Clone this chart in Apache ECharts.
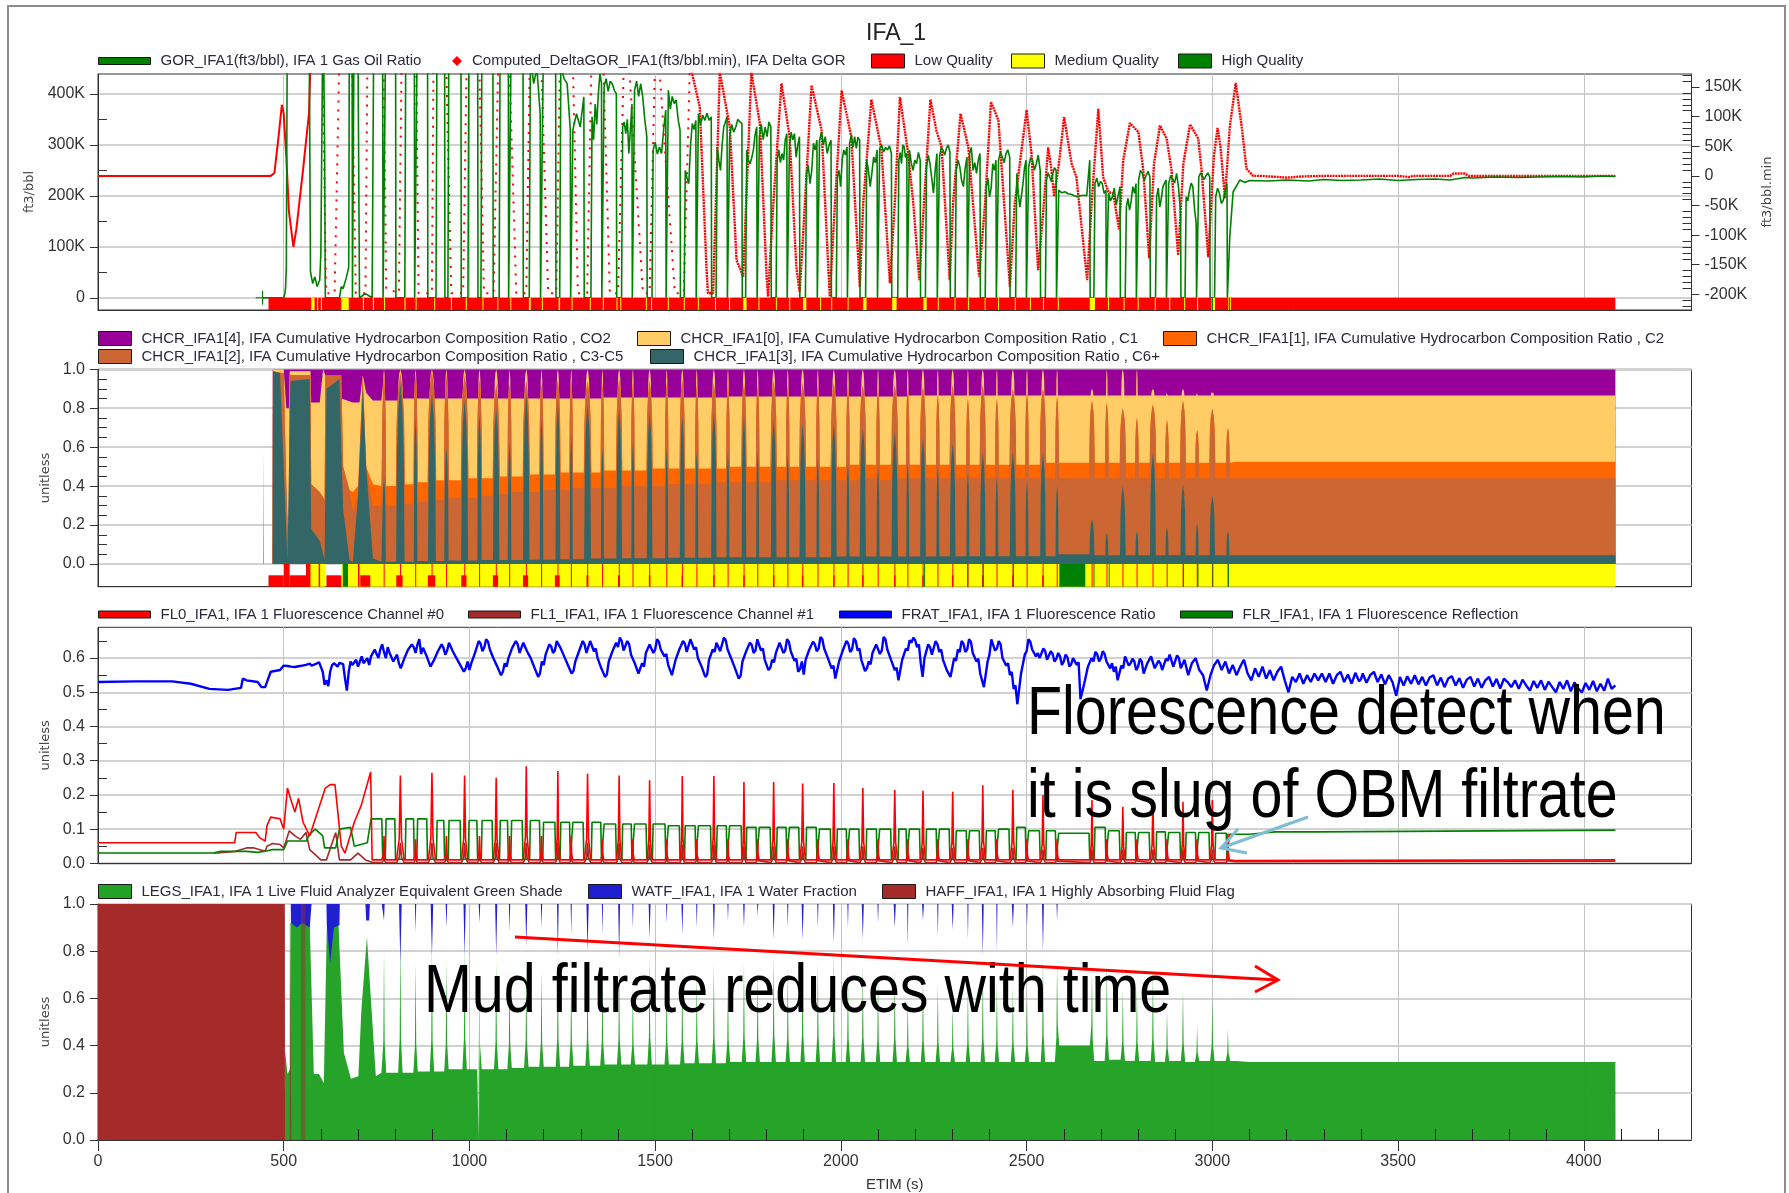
<!DOCTYPE html>
<html>
<head>
<meta charset="utf-8">
<title>IFA_1</title>
<script src="https://cdn.jsdelivr.net/npm/echarts@6/dist/echarts.min.js"></script>
<style>
  html, body { margin: 0; padding: 0; background: #fff; }
  #chart { width: 1789px; height: 1193px; }
</style>
</head>
<body>
<div id="chart"></div>
<script>
// x ticks, all panels share ETIM (s)
const xTicks = [0, 500, 1000, 1500, 2000, 2500, 3000, 3500, 4000]
const xMinorTicks = [600, 700, 800, 900, 1100, 1200, 1300, 1400, 1600, 1700, 1800, 1900, 2100, 2200, 2300, 2400,
  2600, 2700, 2800, 2900, 3100, 3200, 3300, 3400, 3600, 3700, 3800, 3900, 4100, 4200]
const gorTicks = [0, 100, 200, 300, 400]
const gorMinor = [50, 150, 250, 350]
const deltaTicks = [-200, -150, -100, -50, 0, 50, 100, 150]
const deltaMinor = [-220, -210, -190, -180, -170, -160, -140, -130, -120, -110, -90, -80, -70, -60, -40, -30, -20, -10,
  10, 20, 30, 40, 60, 70, 80, 90, 110, 120, 130, 140, 160, 170]
const chcrTicks = [0, 0.2, 0.4, 0.6, 0.8, 1]
const chcrMinor = [0.05, 0.1, 0.15, 0.25, 0.3, 0.35, 0.45, 0.5, 0.55, 0.65, 0.7, 0.75, 0.85, 0.9, 0.95]
const flTicks = [0, 0.1, 0.2, 0.3, 0.4, 0.5, 0.6]
const flMinor = [0.05, 0.15, 0.25, 0.35, 0.45, 0.55, 0.65]
const lfaTicks = [0, 0.2, 0.4, 0.6, 0.8, 1]

// times of the filtrate slugs (s) and how wide each GOR dip is (s)
const slugT = [770, 814, 855, 899, 938, 987, 1027, 1072, 1108, 1153,
  1194, 1238, 1274, 1318, 1358, 1403, 1440, 1485, 1531, 1573,
  1612, 1658, 1696, 1739, 1776, 1819, 1857, 1897, 1938, 1981,
  2019, 2059, 2100, 2145, 2180, 2221, 2261, 2301, 2342, 2382,
  2420, 2463, 2501, 2544, 2582, 2676, 2716, 2759, 2797, 2840,
  2878, 2921, 2959, 3000, 3042]
const slugW = [5, 24, 5, 22, 8, 18, 8, 16, 5, 16,
  5, 10, 3, 18, 3, 13, 3, 13, 3, 10,
  3, 12, 3, 9, 3, 13, 3, 15, 3, 13,
  3, 15, 3, 16, 3, 13, 3, 13, 3, 13,
  3, 15, 3, 13, 3, 10, 3, 13, 3, 14,
  3, 11, 3, 12, 3]

// GOR (K ft3/bbl)
const gorEarly = [[443, 0], [470, 0], [500, 0], [503, 8], [505, 20], [507, 60], [510, 600], [568, 600], [572, 51], [578, 28],
  [584, 41], [590, 22], [597, 35], [600, 87], [606, 600], [610, 300], [612, 0], [650, 0], [655, 22], [660, 18], [668, 38],
  [675, 60], [677, 600], [684, 600], [685, 0], [688, 0], [690, 600], [699, 600], [704, 0], [720, 8], [738, 0], [743, 600], [766, 600]]
// one row per gap between two slugs
const gorPlateau = [[600, 600, 600, 600], [600, 600, 600, 600], [600, 600, 600, 600], [600, 600, 600, 600], [600, 600, 600, 600],
  [600, 600, 600, 600], [600, 600, 600, 600], [600, 600, 600, 600], [600, 600, 600, 600], [470, 420, 450, 360],
  [520, 540, 520, 500], [460, 430, 420, 330], [330, 361, 335, 394],
  [355, 310, 380, 340, 400, 440, 420], [414, 430, 405, 425, 420, 407, 400], [335, 345, 322, 350, 283, 330, 380],
  [407, 425, 395, 420, 394, 350, 316], [290, 305, 282, 296, 283, 330, 368], [407, 370, 395, 381, 388, 350, 329],
  [250, 235, 224, 300, 342, 330, 348], [361, 340, 358, 348, 362, 348, 355], [296, 270, 250, 300, 335, 345, 355],
  [316, 340, 325, 335, 350, 345, 342], [290, 270, 263, 275, 290, 320, 335], [316, 340, 310, 335, 316, 345, 335],
  [270, 290, 265, 283, 270, 310, 322], [296, 325, 310, 322, 276, 300, 316], [244, 260, 224, 250, 303, 290, 309],
  [309, 325, 300, 316, 283, 300, 309], [237, 250, 218, 270, 290, 280, 296], [303, 320, 295, 316, 293, 315, 309],
  [270, 250, 218, 245, 276, 265, 290], [293, 300, 286, 295, 290, 298, 283], [270, 285, 263, 300, 296, 275, 283],
  [290, 265, 250, 270, 263, 285, 270], [257, 280, 263, 235, 205, 250, 283], [276, 295, 290, 280, 293, 300, 286],
  [250, 270, 257, 230, 218, 255, 276], [283, 295, 250, 265, 244, 270, 283], [218, 235, 198, 215, 263, 250, 270],
  [270, 285, 276, 265, 283, 290, 276], [244, 205, 178, 200, 224, 255, 270], [257, 275, 270, 250, 263, 280, 250],
  [231, 245, 237, 228, 244, 255, 250], [211, 206, 208, 204, 203, 200, 198, 200, 201, 200, 270],
  [224, 235, 218, 228, 224, 205, 211], [205, 190, 198, 215, 182, 200, 218], [178, 195, 172, 190, 218, 205, 224],
  [231, 250, 244, 230, 240, 248, 237], [198, 215, 178, 195, 218, 225, 231], [224, 240, 237, 225, 244, 215, 165],
  [198, 190, 211, 225, 218, 175, 146], [237, 245, 242, 232, 240, 245, 237], [198, 215, 205, 185, 191, 210, 224]]
const gorTail = [[3047, 120], [3056, 208], [3074, 231], [3088, 226], [3100, 230], [3150, 229], [3200, 231], [3260, 229], [3300, 232],
  [3350, 230], [3400, 231], [3450, 233], [3500, 230], [3550, 232], [3600, 233], [3640, 231], [3680, 236], [3700, 235],
  [3760, 237], [3820, 236], [3880, 237], [3940, 238], [4000, 237], [4050, 239], [4085, 238]]

// delta GOR (K ft3/bbl.min), right axis. sampled sparsely on the steep part so it looks dotted there
const deltaEarly = [[0, 0], [465, 0], [475, 5], [485, 60], [495, 120], [500, 105], [507, 32], [514, -60], [526, -120], [534, -90],
  [552, 10], [562, 70], [568, 105], [572, 190]]
const deltaSteep = [[572, 190], [590, 260], [605, 175], [614, -198], [637, -198], [649, 175], [665, 260],
  [684, 175], [694, -198], [720, -198], [725, 175], [735, 260], [769, 175], [776, -190], [810, -198], [817, 175], [830, 260],
  [857, 175], [863, -198], [899, -198], [903, 175], [920, 260], [938, 175], [951, -198], [983, -198], [992, 175], [1010, 260],
  [1027, 175], [1039, -198], [1065, -198], [1077, 175], [1095, 260], [1108, 175], [1126, -198], [1153, -198], [1162, 175], [1180, 260],
  [1194, 175], [1212, -198], [1234, -198], [1243, 175], [1262, 260], [1279, 175], [1292, -198], [1317, -198], [1328, 175], [1345, 260],
  [1361, 175], [1378, -198], [1400, -198], [1415, 175], [1425, 260], [1431, 175], [1467, -198], [1485, -198], [1499, 175], [1506, 260],
  [1512, 175], [1553, -198], [1577, -198], [1593, 175]]
const deltaLate = [[1593, 175], [1597, 180], [1620, 116], [1638, -153], [1642, -198], [1656, -198], [1674, 175],
  [1701, 82], [1719, -142], [1737, -170], [1759, 175], [1782, 88], [1800, -170], [1804, -204], [1817, -58], [1840, 156], [1862, 66],
  [1880, -153], [1889, -196], [1898, -103], [1921, 153], [1948, 77], [1970, -204], [1984, -47], [2002, 144], [2028, 66], [2051, -187],
  [2060, -47], [2082, 129], [2109, 46], [2132, -181], [2145, -47], [2159, 133], [2181, 38], [2195, -47], [2211, -176], [2222, -63],
  [2241, 129], [2257, 77], [2271, 49], [2293, -176], [2302, -47], [2322, 105], [2343, 49], [2372, -170], [2388, -47], [2404, 125],
  [2424, 94], [2455, -187], [2468, -47], [2500, 111], [2513, 38], [2531, -159], [2545, -58], [2558, 48], [2567, 10], [2574, -35],
  [2587, 21], [2601, 99], [2621, 21], [2634, -2], [2663, -176], [2675, -47], [2693, 113], [2706, -2], [2720, -27], [2733, -30],
  [2749, -90], [2760, 26], [2778, 89], [2801, 74], [2814, 10], [2830, -139], [2843, 21], [2859, 85], [2877, 63], [2890, 10],
  [2908, -134], [2922, 21], [2940, 87], [2962, 63], [2971, 10], [2989, -137], [3004, 32], [3014, 81], [3022, 49], [3034, -38],
  [3047, 83], [3063, 157], [3079, 83], [3092, 12], [3110, 0], [3130, 0], [3180, -2], [3200, -3], [3240, -1], [3300, 0],
  [3500, 0], [3530, -2], [3540, 0], [3640, 0], [3650, 4], [3680, 4], [3690, 0], [4085, 0]]

// quality flags, [start, end] in s
const qualMedGor = [[574, 583], [590, 592], [600, 603], [655, 675], [713, 716], [740, 743], [770, 772], [825, 828], [855, 857], [905, 907],
  [950, 952], [990, 993], [1035, 1037], [1075, 1077], [1110, 1112], [1160, 1165], [1195, 1197], [1240, 1244], [1275, 1277], [1324, 1326],
  [1359, 1361], [1396, 1398], [1406, 1408], [1475, 1477], [1489, 1491], [1534, 1536], [1577, 1579], [1615, 1617], [1661, 1663], [1699, 1701],
  [1737, 1746], [1778, 1780], [1825, 1827], [1861, 1863], [1898, 1907], [1944, 1946], [1974, 1976], [2018, 2020], [2060, 2069], [2138, 2150],
  [2222, 2231], [2261, 2263], [2306, 2308], [2342, 2344], [2387, 2389], [2423, 2425], [2468, 2470], [2509, 2511], [2544, 2546], [2584, 2586],
  [2670, 2684], [2719, 2721], [2761, 2763], [2799, 2801], [2845, 2847], [2884, 2886], [2924, 2926], [2959, 2961], [2998, 3007], [3043, 3050]]
const qualHighGor = [[2999, 3001], [3045, 3047]]
const qualMedChcr = [[570, 612], [655, 4085]]
const qualLowChcrFull = [[500, 516], [560, 572], [594, 598], [700, 704]]
const qualLowChcrHalf = [[459, 500], [516, 570], [615, 655], [706, 733], [803, 820], [888, 908], [978, 992], [1063, 1077], [1144, 1158], [1230, 1243],
  [1315, 1320], [1400, 1405], [1483, 1487], [1571, 1575], [1656, 1660], [1737, 1741], [1817, 1821], [1895, 1899], [1979, 1983], [2057, 2061],
  [2143, 2147], [2219, 2223], [2299, 2303], [2380, 2384], [2461, 2465], [2542, 2546]]
const qualHighChcr = [[659, 673], [2224, 2226], [2340, 2342], [2382, 2384], [2463, 2465], [2588, 2658], [2680, 2682], [2721, 2723],
  [2921, 2923], [2960, 2962], [3000, 3002], [3042, 3044]]

// composition: upper edge of each layer, bottom layer first
const c6Early = [[470, 0], [471, 0.99], [490, 0.98], [500, 0.5], [510, 0.02], [514, 0.02], [518, 0.94], [570, 0.95], [574, 0.18], [597, 0.12],
  [610, 0.02], [615, 0.9], [650, 0.95], [655, 0.6], [660, 0.28], [677, 0.02], [686, 0.01], [700, 0.35], [713, 0.9], [722, 0.5], [740, 0.03], [763, 0.012]]
const c35Early = [[445, 0], [446, 0.6], [447, 0], [470, 0], [471, 0.99], [500, 0.98], [507, 0.4], [514, 0.02], [516, 0.97], [572, 0.97], [574, 0.41],
  [597, 0.37], [610, 0.33], [612, 0.97], [655, 0.97], [660, 0.5], [677, 0.38], [686, 0.27], [700, 0.36], [713, 0.97], [722, 0.5], [740, 0.3], [763, 0.3]]
const c2Early = [[470, 0], [471, 0.99], [500, 0.98], [507, 0.4], [514, 0.02], [516, 0.97], [572, 0.97], [574, 0.41], [597, 0.37], [610, 0.33],
  [612, 0.97], [655, 0.97], [660, 0.5], [677, 0.38], [686, 0.37], [700, 0.4], [713, 0.97], [722, 0.5], [740, 0.41], [763, 0.4]]
const c1Early = [[470, 0], [471, 1], [500, 1], [507, 0.8], [514, 0.8], [516, 0.99], [572, 0.99], [574, 0.83], [597, 0.83], [606, 1], [612, 0.97],
  [655, 0.85], [686, 0.83], [704, 0.83], [713, 0.97], [722, 0.88], [740, 0.84], [763, 0.84]]
const co2Top = [[470, 0], [470.5, 1], [4085, 1], [4085.5, 0]]
const c6Peak = [0.45, 0.93, 0.75, 0.87, 0.6, 0.84, 0.77, 0.8, 0.62, 0.87,
  0.75, 0.83, 0.66, 0.82, 0.6, 0.8, 0.62, 0.78, 0.6, 0.76,
  0.58, 0.78, 0.58, 0.76, 0.58, 0.74, 0.56, 0.72, 0.54, 0.72,
  0.52, 0.7, 0.5, 0.68, 0.52, 0.65, 0.5, 0.62, 0.47, 0.57,
  0.45, 0.57, 0.43, 0.57, 0.4, 0.23, 0.16, 0.4, 0.17, 0.57,
  0.19, 0.41, 0.21, 0.35, 0.17]
const c35Peak = [0.97, 0.98, 0.98, 0.99, 0.97, 0.97, 0.95, 0.92, 0.93, 0.94,
  0.93, 0.95, 0.95, 0.94, 0.93, 0.95, 0.93, 0.94, 0.93, 0.95,
  0.92, 0.93, 0.92, 0.93, 0.92, 0.94, 0.92, 0.93, 0.92, 0.93,
  0.91, 0.92, 0.9, 0.92, 0.9, 0.91, 0.87, 0.92, 0.85, 0.92,
  0.85, 0.9, 0.88, 0.9, 0.86, 0.84, 0.83, 0.8, 0.75, 0.82,
  0.74, 0.84, 0.69, 0.8, 0.7]
const c1Peak = [1, 1, 1, 1, 1, 1, 1, 1, 1, 1,
  1, 1, 1, 1, 1, 1, 1, 1, 1, 1,
  1, 1, 1, 1, 1, 1, 1, 1, 1, 1,
  1, 1, 1, 1, 1, 1, 1, 1, 1, 1,
  1, 1, 1, 1, 1, 0.9, 1, 1, 1, 0.9,
  0.88, 0.9, 0.88, 0.89, 0.87]
const c6Base = [0.012, 0.012, 0.015, 0.015, 0.018, 0.018, 0.02, 0.02, 0.02, 0.022,
  0.022, 0.025, 0.025, 0.028, 0.028, 0.03, 0.03, 0.03, 0.032, 0.032,
  0.032, 0.035, 0.035, 0.035, 0.035, 0.035, 0.035, 0.035, 0.035, 0.038,
  0.038, 0.038, 0.038, 0.038, 0.038, 0.038, 0.04, 0.04, 0.04, 0.04,
  0.04, 0.04, 0.04, 0.04, 0.05, 0.045, 0.045, 0.045, 0.045, 0.045,
  0.045, 0.045, 0.045, 0.045, 0.045]
const c35Base = [0.3, 0.31, 0.32, 0.33, 0.34, 0.34, 0.35, 0.36, 0.37, 0.37,
  0.38, 0.38, 0.39, 0.39, 0.39, 0.4, 0.4, 0.4, 0.41, 0.41,
  0.41, 0.42, 0.42, 0.42, 0.42, 0.43, 0.43, 0.43, 0.43, 0.43,
  0.43, 0.44, 0.43, 0.44, 0.44, 0.44, 0.44, 0.44, 0.44, 0.44,
  0.44, 0.44, 0.44, 0.44, 0.44, 0.44, 0.44, 0.44, 0.44, 0.44,
  0.44, 0.44, 0.44, 0.44, 0.44]
const c2Base = [0.4, 0.41, 0.42, 0.43, 0.43, 0.44, 0.44, 0.45, 0.45, 0.46,
  0.46, 0.47, 0.47, 0.47, 0.48, 0.48, 0.48, 0.49, 0.49, 0.49,
  0.49, 0.49, 0.5, 0.5, 0.5, 0.5, 0.5, 0.5, 0.5, 0.5,
  0.51, 0.51, 0.51, 0.51, 0.51, 0.51, 0.51, 0.51, 0.51, 0.51,
  0.51, 0.51, 0.51, 0.52, 0.52, 0.52, 0.52, 0.52, 0.52, 0.52,
  0.52, 0.52, 0.52, 0.52, 0.52]
const c1Base = [0.84, 0.85, 0.85, 0.85, 0.85, 0.85, 0.85, 0.85, 0.85, 0.85,
  0.85, 0.85, 0.85, 0.85, 0.855, 0.855, 0.855, 0.855, 0.855, 0.855,
  0.855, 0.855, 0.86, 0.86, 0.86, 0.86, 0.86, 0.86, 0.86, 0.86,
  0.86, 0.86, 0.86, 0.86, 0.865, 0.865, 0.865, 0.865, 0.865, 0.865,
  0.865, 0.865, 0.865, 0.865, 0.865, 0.865, 0.865, 0.865, 0.865, 0.865,
  0.865, 0.865, 0.865, 0.865, 0.865]
const c6Tail = [[3065, 0.045], [4085, 0.045], [4085.5, 0]]
const c35Tail = [[3065, 0.44], [4085, 0.44], [4085.5, 0]]
const c2Tail = [[3065, 0.525], [4085, 0.525], [4085.5, 0]]
const c1Tail = [[3065, 0.865], [4085, 0.865], [4085.5, 0]]

// fluorescence
const fl0Early = [[0, 0.06], [230, 0.06], [235, 0.058], [368, 0.06], [372, 0.09], [425, 0.09], [435, 0.075], [450, 0.065], [455, 0.11], [465, 0.135],
  [490, 0.13], [500, 0.1], [510, 0.22], [518, 0.19], [530, 0.15], [540, 0.19], [552, 0.12], [570, 0.08], [612, 0.22], [625, 0.23], [638, 0.23],
  [655, 0.05], [665, 0.03], [690, 0.12], [709, 0.17], [734, 0.267], [738, 0.01], [764, 0.01]]
const fl1Early = [[310, 0.03], [320, 0.03], [370, 0.035], [400, 0.045], [420, 0.045], [450, 0.035], [455, 0.05], [470, 0.058], [490, 0.055], [500, 0.045],
  [515, 0.095], [530, 0.08], [545, 0.07], [560, 0.09], [570, 0.04], [600, 0.01], [615, 0.01], [640, 0.09], [650, 0.01], [680, 0.01], [700, 0.03], [720, 0.01], [740, 0.002], [764, 0.002]]
const flrEarly = [[0, 0.03], [310, 0.03], [330, 0.035], [400, 0.035], [430, 0.032], [450, 0.035], [470, 0.04], [500, 0.04], [510, 0.065], [560, 0.065],
  [570, 0.085], [585, 0.1], [605, 0.08], [610, 0.045], [640, 0.045], [650, 0.1], [680, 0.105], [690, 0.05], [725, 0.06], [735, 0.13], [764, 0.13]]
const fl0Peak = [0.08, 0.257, 0.07, 0.265, 0.08, 0.257, 0.08, 0.25, 0.08, 0.284,
  0.08, 0.27, 0.08, 0.262, 0.07, 0.257, 0.07, 0.243, 0.07, 0.255,
  0.07, 0.255, 0.07, 0.238, 0.07, 0.238, 0.07, 0.233, 0.07, 0.235,
  0.07, 0.22, 0.07, 0.214, 0.07, 0.212, 0.07, 0.209, 0.07, 0.228,
  0.07, 0.214, 0.07, 0.2, 0.07, 0.185, 0.07, 0.165, 0.07, 0.185,
  0.07, 0.18, 0.07, 0.185, 0.087]
const fl1Peak = [0.03, 0.06, 0.03, 0.06, 0.03, 0.06, 0.03, 0.06, 0.03, 0.06,
  0.03, 0.06, 0.03, 0.06, 0.03, 0.06, 0.03, 0.055, 0.03, 0.055,
  0.03, 0.055, 0.03, 0.05, 0.025, 0.05, 0.025, 0.05, 0.025, 0.05,
  0.025, 0.05, 0.025, 0.05, 0.025, 0.045, 0.025, 0.045, 0.025, 0.045,
  0.02, 0.045, 0.02, 0.04, 0.02, 0.04, 0.02, 0.04, 0.02, 0.04,
  0.02, 0.04, 0.02, 0.04, 0.02]
const flrTop = [0.13, 0.13, 0.13, 0.125, 0.125, 0.125, 0.125, 0.125, 0.125, 0.125,
  0.12, 0.12, 0.12, 0.12, 0.115, 0.115, 0.115, 0.115, 0.11, 0.11,
  0.11, 0.11, 0.11, 0.105, 0.105, 0.105, 0.105, 0.105, 0.1, 0.1,
  0.1, 0.1, 0.1, 0.1, 0.1, 0.1, 0.1, 0.095, 0.095, 0.095,
  0.1, 0.105, 0.095, 0.095, 0.088, 0.105, 0.095, 0.09, 0.09, 0.092,
  0.09, 0.09, 0.09, 0.088]
const fl0Tail = [[3060, 0.008], [4085, 0.01]]
const fl1Tail = [[3060, 0.005], [4085, 0.006]]
const flrTail = [[3046, 0.085], [3100, 0.085], [3170, 0.092], [3285, 0.092], [3290, 0.097], [4085, 0.097]]
const fratEarly = [[0, 0.53], [100, 0.532], [200, 0.532], [250, 0.525], [300, 0.51], [350, 0.507], [385, 0.513], [390, 0.54], [400, 0.535], [430, 0.53],
  [440, 0.515], [450, 0.515], [465, 0.56], [490, 0.565]]
// FRAT read every 5 s from t = 500, in thousandths
const fratValues = [578, 580, 577, 574, 575, 578, 574, 571, 576, 579, 578, 575, 580, 584, 584, 578, 576, 582, 586, 588,
  584, 560, 522, 535, 518, 560, 579, 585, 582, 575, 586, 590, 582, 540, 505, 560, 590, 580, 585, 595,
  575, 590, 605, 585, 590, 600, 580, 605, 600, 625, 612, 600, 625, 640, 618, 600, 632, 615, 610, 590,
  590, 610, 585, 570, 575, 600, 600, 625, 620, 640, 632, 615, 640, 655, 612, 630, 628, 605, 600, 575,
  572, 595, 590, 620, 615, 640, 630, 610, 622, 645, 640, 620, 625, 600, 605, 580, 585, 560, 570, 590,
  565, 585, 590, 615, 620, 650, 642, 620, 632, 655, 648, 625, 620, 598, 600, 575, 578, 550, 560, 585,
  575, 600, 605, 630, 628, 650, 640, 615, 618, 645, 645, 620, 625, 600, 600, 572, 575, 545, 556, 590,
  580, 610, 612, 640, 634, 615, 622, 650, 650, 630, 635, 605, 610, 580, 585, 555, 562, 590, 590, 620,
  622, 650, 640, 615, 618, 650, 645, 620, 628, 600, 605, 570, 575, 545, 552, 590, 585, 620, 615, 645,
  632, 660, 650, 622, 625, 650, 640, 610, 612, 585, 590, 555, 560, 585, 575, 615, 610, 640, 635, 615,
  625, 655, 648, 625, 630, 605, 612, 580, 585, 550, 555, 595, 590, 625, 620, 650, 642, 618, 622, 655,
  650, 625, 632, 600, 605, 575, 580, 545, 552, 595, 590, 625, 618, 645, 640, 620, 625, 660, 652, 625,
  630, 598, 602, 570, 575, 540, 548, 590, 585, 620, 615, 645, 638, 615, 622, 655, 650, 622, 628, 595,
  600, 565, 572, 595, 588, 615, 612, 645, 640, 615, 622, 655, 648, 620, 625, 592, 598, 560, 568, 590,
  552, 595, 590, 625, 620, 648, 640, 620, 628, 662, 655, 628, 632, 600, 605, 570, 578, 540, 545, 590,
  585, 622, 618, 650, 642, 618, 625, 658, 650, 622, 628, 595, 600, 562, 570, 590, 582, 615, 610, 640,
  636, 612, 622, 662, 655, 625, 630, 595, 600, 565, 572, 535, 540, 595, 590, 628, 622, 652, 645, 660,
  652, 632, 640, 585, 545, 600, 600, 640, 632, 610, 615, 650, 640, 618, 625, 595, 598, 565, 570, 545,
  540, 600, 592, 625, 618, 650, 642, 618, 625, 655, 648, 615, 620, 590, 598, 555, 560, 515, 520, 590,
  610, 655, 650, 622, 628, 650, 640, 600, 605, 578, 585, 550, 560, 510, 520, 465, 465, 555, 560, 610,
  620, 655, 648, 625, 630, 605, 615, 600, 605, 628, 620, 595, 600, 620, 612, 590, 598, 615, 605, 580,
  590, 610, 602, 575, 582, 600, 595, 580, 588, 480, 480, 525, 530, 575, 570, 600, 590, 618, 612, 590,
  600, 620, 612, 590, 595, 570, 585, 560, 575, 535, 540, 578, 570, 605, 600, 578, 585, 598, 590, 565,
  575, 598, 590, 555, 560, 585, 580, 605, 600, 570, 575, 592, 585, 565, 570, 598, 592, 610, 605, 575,
  580, 608, 600, 570, 575, 595, 590, 550, 555, 585, 580, 600, 595, 565, 570, 550, 555, 505, 510, 550,
  545, 580, 575, 595, 590, 565, 570, 590, 585, 555, 560, 580, 575, 550, 555, 575, 570, 595, 590, 555,
  560, 535, 540, 570, 565, 545, 550, 575, 570, 540, 545, 565, 560, 535, 540, 560, 555, 575, 570, 535,
  540, 500, 505, 545, 540, 530, 535, 555, 550, 525, 530, 550, 545, 530, 535, 555, 550, 535, 540, 555,
  555, 530, 535, 555, 550, 525, 530, 550, 545, 560, 555, 530, 535, 552, 548, 525, 530, 557, 552, 532,
  538, 555, 550, 528, 532, 550, 546, 560, 555, 530, 535, 552, 548, 523, 528, 550, 545, 530, 535, 490,
  490, 545, 540, 520, 525, 547, 542, 525, 530, 550, 545, 523, 528, 545, 540, 520, 525, 543, 538, 550,
  545, 520, 525, 543, 538, 515, 520, 540, 535, 547, 542, 520, 525, 541, 536, 513, 518, 537, 532, 545,
  540, 517, 522, 540, 535, 513, 518, 535, 530, 545, 540, 517, 522, 539, 534, 511, 516, 540, 535, 530,
  535, 515, 520, 535, 530, 510, 515, 537, 532, 520, 525, 505, 510, 533, 528, 513, 518, 535, 530, 507,
  512, 531, 526, 515, 520, 500, 505, 530, 525, 510, 515, 535, 530, 503, 508, 529, 524, 511, 516, 500,
  505, 527, 522, 507, 512, 533, 528, 503, 508, 525, 520, 505, 510, 540, 535, 510, 515, 520]

// live fluid analyzer
const legsEarly = [[503, 0], [503.5, 0.38], [510, 0.28], [517, 0.3], [518, 0.92], [570, 0.92], [581, 0.28], [595, 0.28], [608, 0.24], [616, 0.9],
  [647, 0.93], [662, 0.37], [681, 0.26], [701, 0.27], [709, 0.55], [724, 0.86], [748, 0.27], [763, 0.285]]
const legsPeak = [0.8, 0.87, 0.75, 0.82, 0.76, 0.82, 0.7, 0.76, 0.72, 0.75,
  0.72, 0.78, 0.72, 0.76, 0.72, 0.74, 0.65, 0.78, 0.7, 0.72,
  0.7, 0.75, 0.7, 0.75, 0.72, 0.78, 0.72, 0.78, 0.75, 0.8,
  0.72, 0.74, 0.7, 0.72, 0.6, 0.69, 0.66, 0.57, 0.65, 0.72,
  0.66, 0.65, 0.62, 0.78, 0.75, 0.72, 0.75, 0.64, 0.65, 0.71,
  0.55, 0.64, 0.48, 0.6, 0.47]
const legsBase = [0.285, 0.285, 0.29, 0.29, 0.3, 0.3, 0.3, 0.3, 0.305, 0.31,
  0.31, 0.31, 0.315, 0.315, 0.32, 0.32, 0.32, 0.32, 0.32, 0.325,
  0.325, 0.325, 0.33, 0.33, 0.33, 0.33, 0.33, 0.33, 0.33, 0.33,
  0.33, 0.33, 0.33, 0.33, 0.33, 0.33, 0.33, 0.33, 0.33, 0.33,
  0.33, 0.33, 0.33, 0.33, 0.4, 0.335, 0.34, 0.335, 0.335, 0.33,
  0.335, 0.33, 0.335, 0.335, 0.335]
const legsTail = [[3065, 0.335], [3100, 0.33], [4085, 0.33], [4085.5, 0]]
const watfEarly = [[510, 1], [519, 1], [519.5, 0.92], [535, 0.9], [550, 0.92], [570, 0.9], [575, 1], [615, 1], [616, 0.91], [625, 0.75], [635, 0.9], [650, 0.91], [651, 1],
  [720, 1], [722, 0.93], [730, 0.93], [732, 1], [764, 1]]
const watfLow = [0.93, 0.75, 0.88, 0.78, 0.9, 0.78, 0.92, 0.78, 0.88, 0.82,
  0.9, 0.78, 0.87, 0.8, 0.87, 0.77, 0.9, 0.85, 0.92, 0.87,
  0.9, 0.85, 0.93, 0.9, 0.95, 0.85, 0.9, 0.85, 0.9, 0.83,
  0.9, 0.85, 0.92, 0.9, 0.82, 0.93, 0.86, 0.89, 0.85, 0.78,
  0.8, 0.9, 0.9, 0.8, 0.93]
const haffFlag = [[0, 1], [503, 1], [503.5, 0]]
const haffStripe = [[516, 0], [516.5, 1], [520, 1], [520.5, 0]]
const haffFaint = [[546, 0], [546.5, 1], [558, 1], [558.5, 0]]

const xMax = 4290
const gorRange = [-24, 439]
const deltaRange = [-226.4, 172]
const chcrRange = [-0.1166, 1]
const flRange = [0, 0.69]
const lfaRange = [0, 1]

function buildGor() {
  let pts = gorEarly.slice()
  slugT.forEach((t, i) => {
    const half = slugW[i] / 2
    pts.push([t - half, 0], [t + half, 0])
    const row = gorPlateau[i]
    if (!row) return
    const start = t + half + 3
    const end = slugT[i + 1] - slugW[i + 1] / 2 - 1
    row.forEach((v, j) => pts.push([start + (end - start) * j / (row.length - 1), v]))
  })
  return pts.concat(gorTail)
}

// how far up a spike is at a given share of its half width
const columnShape = [[0.8, 0.6], [0.5, 0.85]]
const needleShape = [[0.3, 0.25]]

// every slug is a spike between the base levels either side of it
function spikes(early, base, peak, halfWidth, tail, shape) {
  let pts = early.slice()
  slugT.forEach((t, i) => {
    const hw = halfWidth(i)
    const before = i ? base[i - 1] : base[0]
    const after = base[i]
    pts.push([t - hw, before])
    shape.forEach(s => pts.push([t - hw * s[0], before + (peak[i] - before) * s[1]]))
    pts.push([t, peak[i]])
    shape.slice().reverse().forEach(s => pts.push([t + hw * s[0], after + (peak[i] - after) * s[1]]))
    pts.push([t + hw, after])
  })
  return pts.concat(tail)
}

function buildFlr() {
  let pts = flrEarly.slice()
  slugT.forEach((t, i) => {
    const half = slugW[i] / 2 + 1
    pts.push([t - half, 0.012], [t + half, 0.012])
    if (i < flrTop.length) {
      pts.push([t + half + 2, flrTop[i]], [slugT[i + 1] - slugW[i + 1] / 2 - 3, flrTop[i]])
    }
  })
  return pts.concat(flrTail)
}

function buildWatf() {
  let pts = watfEarly.slice()
  watfLow.forEach((v, i) => {
    const t = slugT[i]
    const hw = slugW[i] * 0.1 + 1.2
    pts.push([t - hw, 1], [t, v], [t + hw, 1])
  })
  return pts
}

function buildFrat() {
  return fratEarly.concat(fratValues.map((v, i) => [500 + i * 5, v / 1000]))
}

function buildLegs() {
  let pts = spikes(legsEarly, legsBase, legsPeak, i => 6, legsTail, needleShape)
  // the single missing sample near 1024 s
  pts.push([1024, 0.3], [1024.5, 0], [1027, 0], [1027.5, 0.3])
  return pts.sort((a, b) => a[0] - b[0])
}

const c6Width = i => slugW[i] * 0.35 + 3
const c35Width = i => slugW[i] * 0.35 + 4
const c1Width = i => slugW[i] * 0.2 + 1.5
const fl0Width = i => slugW[i] * 0.3 + 3

function bandItems(list, low, high) {
  return list.map(seg => [seg[0], seg[1], low, high])
}

function renderBand(params, api) {
  const a = api.coord([api.value(0), api.value(3)])
  const b = api.coord([api.value(1), api.value(2)])
  return {
    type: 'rect',
    shape: { x: a[0], y: a[1], width: Math.max(b[0] - a[0], 1), height: b[1] - a[1] },
    style: { fill: api.visual('color') }
  }
}

function bandSeries(name, color, data, xIdx, yIdx) {
  return {
    name: name, type: 'custom', renderItem: renderBand, data: data, xAxisIndex: xIdx, yAxisIndex: yIdx,
    itemStyle: { color: color }, encode: { x: [0, 1], y: [2, 3] }, animation: false, z: 4
  }
}

function lineSeries(name, color, data, xIdx, yIdx, extra) {
  return Object.assign({
    name: name, type: 'line', data: data, xAxisIndex: xIdx, yAxisIndex: yIdx,
    color: color, showSymbol: false, symbol: 'none', animation: false,
    lineStyle: { color: color, width: 1.6 }
  }, extra)
}

function areaSeries(name, color, data, xIdx, yIdx, origin, opacity) {
  return lineSeries(name, color, data, xIdx, yIdx, {
    lineStyle: { width: 0 },
    areaStyle: { color: color, opacity: opacity === undefined ? 1 : opacity, origin: origin }
  })
}

const labelFont = { color: '#333', fontSize: 16, fontFamily: 'Liberation Sans' }
const nameFont = { color: '#444', fontSize: 13, fontFamily: 'DejaVu Sans' }
const gridLine = { show: true, lineStyle: { color: '#d2d2d2', width: 2 } }
const vertLine = { show: true, lineStyle: { color: '#c4c4c4', width: 1 } }

function yAxis(grid, range, ticks, name, format, extra) {
  return Object.assign({
    type: 'value', gridIndex: grid, min: range[0], max: range[1], position: 'left',
    name: name, nameLocation: 'middle', nameGap: 46, nameTextStyle: nameFont,
    axisLine: { show: true, lineStyle: { color: '#333' } },
    axisTick: { show: true, length: 8, customValues: ticks, lineStyle: { color: '#333' } },
    axisLabel: { show: true, margin: 13, customValues: ticks, formatter: format, ...labelFont },
    splitLine: gridLine
  }, extra)
}

// ticks only, these sit on the inner side of the plot
function yMinorAxis(grid, range, ticks, position) {
  return {
    type: 'value', gridIndex: grid, min: range[0], max: range[1], position: position,
    axisLine: { show: false }, axisLabel: { show: false }, splitLine: { show: false },
    axisTick: { show: true, inside: true, length: 9, customValues: ticks, lineStyle: { color: '#333' } }
  }
}

function xAxis(grid, showLabels, vertical) {
  return {
    type: 'value', gridIndex: grid, min: 0, max: xMax, position: 'bottom',
    axisLine: { show: true, onZero: false, lineStyle: { color: '#333' } },
    axisTick: { show: showLabels, length: 11, customValues: xTicks, lineStyle: { color: '#333' } },
    axisLabel: { show: showLabels, margin: 14, customValues: xTicks, formatter: v => String(v), ...labelFont },
    splitLine: vertical ? vertLine : { show: false },
    name: showLabels ? 'ETIM (s)' : '', nameLocation: 'middle', nameGap: 37,
    nameTextStyle: { color: '#333', fontSize: 15, fontFamily: 'Liberation Sans' }
  }
}

const legendText = { color: '#2a2a38', fontSize: 15, fontFamily: 'Liberation Sans', padding: [0, 0, 0, 5] }

function legendItem(name, left, y, color, w, h, icon) {
  return {
    data: [name], left: left, top: y - 7, padding: 0, selectedMode: false, orient: 'horizontal',
    icon: icon || 'rect', itemWidth: w, itemHeight: h,
    itemStyle: { color: color, borderColor: icon ? color : '#1a1a1a', borderWidth: icon ? 0 : 1 },
    textStyle: legendText
  }
}

const red = '#ff0000'
const yellow = '#ffff00'
const green = '#008000'
const nameGor = 'GOR_IFA1(ft3/bbl), IFA 1 Gas Oil Ratio'
const nameDelta = 'Computed_DeltaGOR_IFA1(ft3/bbl.min), IFA Delta GOR'
const nameLow = 'Low Quality'
const nameMed = 'Medium Quality'
const nameHigh = 'High Quality'
const nameCo2 = 'CHCR_IFA1[4], IFA Cumulative Hydrocarbon Composition Ratio , CO2'
const nameC1 = 'CHCR_IFA1[0], IFA Cumulative Hydrocarbon Composition Ratio , C1'
const nameC2 = 'CHCR_IFA1[1], IFA Cumulative Hydrocarbon Composition Ratio , C2'
const nameC35 = 'CHCR_IFA1[2], IFA Cumulative Hydrocarbon Composition Ratio , C3-C5'
const nameC6 = 'CHCR_IFA1[3], IFA Cumulative Hydrocarbon Composition Ratio , C6+'
const nameFl0 = 'FL0_IFA1, IFA 1 Fluorescence Channel #0'
const nameFl1 = 'FL1_IFA1, IFA 1 Fluorescence Channel #1'
const nameFrat = 'FRAT_IFA1, IFA 1 Fluorescence Ratio'
const nameFlr = 'FLR_IFA1, IFA 1 Fluorescence Reflection'
const nameLegs = 'LEGS_IFA1, IFA 1 Live Fluid Analyzer Equivalent Green Shade'
const nameWatf = 'WATF_IFA1, IFA 1 Water Fraction'
const nameHaff = 'HAFF_IFA1, IFA 1 Highly Absorbing Fluid Flag'

const gridBox = { left: 98, width: 1593.5, show: true, borderColor: '#333', borderWidth: 1, backgroundColor: '#fff' }

const kLabel = v => (v === 0 ? '0' : v + 'K')
const oneDec = v => v.toFixed(1)

function bigText(text, x, y, scaleX) {
  return {
    type: 'text', x: x, y: y, scaleX: scaleX, z: 100,
    style: { text: text, fill: '#000', font: '68px "Liberation Sans"', textVerticalAlign: 'bottom' }
  }
}

function stroke(points, color) {
  return { type: 'polyline', z: 100, shape: { points: points }, style: { stroke: color, lineWidth: 3, fill: 'none' } }
}

const option = {
  backgroundColor: '#fff',
  animation: false,
  title: {
    text: 'IFA_1', left: 866, top: 22, padding: 0,
    textStyle: { color: '#222', fontSize: 23, fontWeight: 'normal', fontFamily: 'Liberation Sans' }
  },
  grid: [
    { ...gridBox, top: 74, height: 236 },
    { ...gridBox, top: 369.3, height: 217.4 },
    { ...gridBox, top: 627.3, height: 236 },
    { ...gridBox, top: 904, height: 236.7 }
  ],
  legend: [
    legendItem(nameGor, 98, 60.5, green, 52, 7),
    legendItem(nameDelta, 452, 60.5, red, 10, 10, 'diamond'),
    legendItem(nameLow, 871, 60.5, red, 33, 14),
    legendItem(nameMed, 1011, 60.5, yellow, 33, 14),
    legendItem(nameHigh, 1178, 60.5, green, 33, 14),
    legendItem(nameCo2, 98, 338, '#990099', 33, 14),
    legendItem(nameC1, 637, 338, '#ffcc66', 33, 14),
    legendItem(nameC2, 1163, 338, '#ff6600', 33, 14),
    legendItem(nameC35, 98, 356, '#cc6633', 33, 14),
    legendItem(nameC6, 650, 356, '#336666', 33, 14),
    legendItem(nameFl0, 98, 614, red, 52, 7),
    legendItem(nameFl1, 468, 614, '#a52a2a', 52, 7),
    legendItem(nameFrat, 839, 614, '#0000ff', 52, 7),
    legendItem(nameFlr, 1180, 614, green, 52, 7),
    legendItem(nameLegs, 98, 891, '#22a325', 33, 14),
    legendItem(nameWatf, 588, 891, '#2020d0', 33, 14),
    legendItem(nameHaff, 882, 891, '#a52a2a', 33, 14)
  ],
  xAxis: [
    xAxis(0, false, true),
    xAxis(1, false, false),
    xAxis(2, false, true),
    xAxis(3, true, true),
    {
      type: 'value', gridIndex: 3, min: 0, max: xMax, position: 'bottom', z: 20,
      axisLine: { show: false, onZero: false }, axisLabel: { show: false }, splitLine: { show: false },
      axisTick: { show: true, inside: true, length: 11, customValues: xMinorTicks, lineStyle: { color: '#222' } }
    }
  ],
  yAxis: [
    yAxis(0, gorRange, gorTicks, 'ft3/bbl', kLabel, { nameGap: 62 }),
    yMinorAxis(0, gorRange, gorMinor, 'left'),
    yAxis(0, deltaRange, deltaTicks, 'ft3/bbl.min', kLabel, { position: 'right', nameGap: 70, splitLine: { show: false } }),
    yMinorAxis(0, deltaRange, deltaMinor, 'right'),
    yAxis(1, chcrRange, chcrTicks, 'unitless', oneDec),
    yMinorAxis(1, chcrRange, chcrMinor, 'left'),
    yAxis(2, flRange, flTicks, 'unitless', oneDec),
    yMinorAxis(2, flRange, flMinor, 'left'),
    yAxis(3, lfaRange, lfaTicks, 'unitless', oneDec)
  ],
  series: [
    lineSeries(nameGor, green, buildGor(), 0, 0, {
      z: 3,
      markPoint: {
        silent: true, symbol: 'path://M4.6 0h.8v4.6h4.6v.8h-4.6v4.6h-.8v-4.6h-4.6v-.8h4.6z', symbolSize: 14,
        itemStyle: { color: green }, label: { show: false }, data: [{ coord: [443, 0] }]
      }
    }),
    lineSeries(nameDelta, red, deltaEarly, 0, 2, { z: 2, lineStyle: { color: red, width: 2 } }),
    lineSeries(nameDelta, red, deltaSteep, 0, 2, { z: 2, lineStyle: { color: red, width: 2, type: [2, 7] } }),
    lineSeries(nameDelta, red, deltaLate, 0, 2, { z: 2, lineStyle: { color: red, width: 2.4, type: [2, 0.8] } }),
    bandSeries(nameLow, red, bandItems([[459, 4085]], gorRange[0], 0), 0, 0),
    bandSeries(nameMed, yellow, bandItems(qualMedGor, gorRange[0], 0), 0, 0),
    bandSeries(nameHigh, green, bandItems(qualHighGor, gorRange[0], 0), 0, 0),

    areaSeries(nameCo2, '#990099', co2Top, 1, 4, 0),
    areaSeries(nameC1, '#ffcc66', spikes(c1Early, c1Base, c1Peak, c1Width, c1Tail, columnShape), 1, 4, 0),
    areaSeries(nameC2, '#ff6600', spikes(c2Early, c2Base, c35Peak, c35Width, c2Tail, columnShape), 1, 4, 0),
    areaSeries(nameC35, '#cc6633', spikes(c35Early, c35Base, c35Peak, c35Width, c35Tail, columnShape), 1, 4, 0),
    areaSeries(nameC6, '#336666', spikes(c6Early, c6Base, c6Peak, c6Width, c6Tail, columnShape), 1, 4, 0),
    bandSeries(nameMed, yellow, bandItems(qualMedChcr, chcrRange[0], 0), 1, 4),
    bandSeries(nameLow, red, bandItems(qualLowChcrFull, chcrRange[0], 0)
      .concat(bandItems(qualLowChcrHalf, chcrRange[0], -0.058))
      .concat(bandItems(slugT.map(t => [t - 1, t + 1]), chcrRange[0], 0)), 1, 4),
    bandSeries(nameHigh, green, bandItems(qualHighChcr, chcrRange[0], 0), 1, 4),

    lineSeries(nameFlr, green, buildFlr(), 2, 6, { z: 3 }),
    lineSeries(nameFl1, '#a52a2a', spikes(fl1Early, slugT.map(() => 0.002), fl1Peak, fl0Width, fl1Tail, needleShape), 2, 6, { z: 2 }),
    lineSeries(nameFl0, red, spikes(fl0Early, slugT.map(() => 0.01), fl0Peak, fl0Width, fl0Tail, needleShape), 2, 6, { z: 4 }),
    lineSeries(nameFrat, '#0000ff', buildFrat(), 2, 6, { z: 3, lineStyle: { color: '#0000ff', width: 2.4 } }),

    areaSeries(nameLegs, '#1fa022', buildLegs(), 3, 8, 'start', 0.97),
    areaSeries(nameWatf, '#2020d0', buildWatf(), 3, 8, 'end'),
    areaSeries(nameHaff, '#a52a2a', haffFlag, 3, 8, 'start'),
    areaSeries(nameHaff, '#a52a2a', haffStripe, 3, 8, 'start', 0.75),
    areaSeries(nameHaff, '#a52a2a', haffFaint, 3, 8, 'start', 0.45)
  ],
  graphic: [
    { type: 'polyline', z: 90, shape: { points: [[8, 1193], [8, 6], [1785, 6], [1785, 1193]] }, style: { stroke: '#8c8c8c', lineWidth: 2, fill: 'none' } },
    bigText('Florescence detect when', 1027, 749, 0.845),
    bigText('it is slug of OBM filtrate', 1027, 832, 0.845),
    bigText('Mud filtrate reduces with time', 424, 1027, 0.845),
    stroke([[515, 937], [1278, 980]], red),
    stroke([[1255, 966], [1278, 980], [1255, 992]], red),
    stroke([[1308, 817], [1221, 848]], '#7fbcd6'),
    stroke([[1238, 829], [1221, 848], [1247, 853]], '#7fbcd6')
  ]
}

const chart = echarts.init(document.getElementById('chart'))
chart.setOption(option)
</script>
</body>
</html>
